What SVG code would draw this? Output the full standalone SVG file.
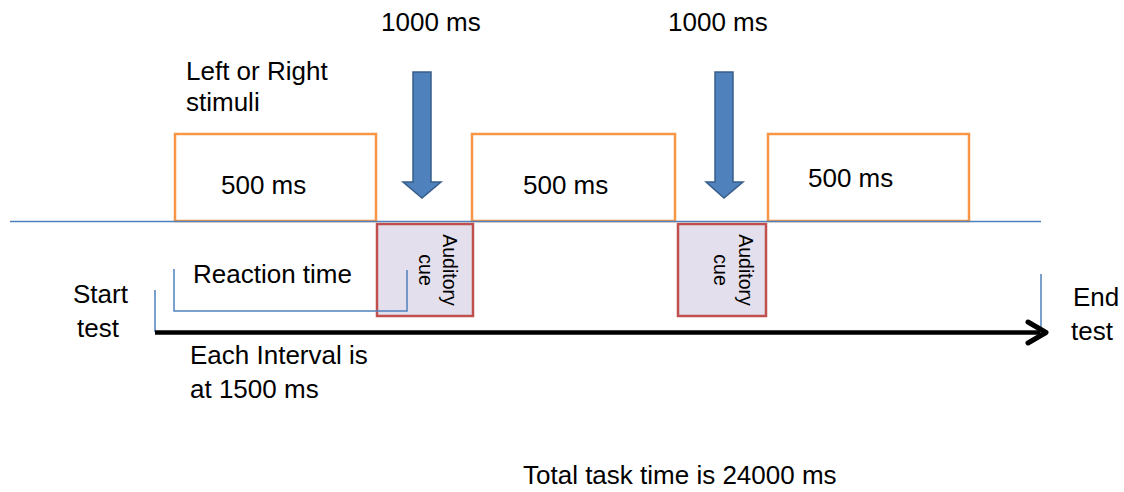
<svg xmlns="http://www.w3.org/2000/svg" width="1124" height="492" viewBox="0 0 1124 492">
<style>
text{font-family:"Liberation Sans",Arial,sans-serif;fill:#000;}
.lbl{font-size:26px;}
.cue{font-size:19.5px;}
.stim{fill:#fff;stroke:#F79646;stroke-width:2.5;}
.aud{fill:#E4DFEC;stroke:#C0504D;stroke-width:2.5;}
.thin{fill:none;stroke:#4F81BD;stroke-width:1.5;}
.barrow{fill:#4F81BD;stroke:#385D8A;stroke-width:1.5;}
</style>
<rect width="1124" height="492" fill="#fff"/>
<g id="stim1"><rect class="stim" x="175" y="134" width="201" height="87"/><text class="lbl" x="221" y="194">500 ms</text></g>
<g id="stim2"><rect class="stim" x="472" y="134" width="203" height="87"/><text class="lbl" x="523" y="194">500 ms</text></g>
<g id="stim3"><rect class="stim" x="768" y="134" width="201" height="87"/><text class="lbl" x="808" y="187">500 ms</text></g>
<g id="cue1"><rect class="aud" x="377" y="224" width="96" height="92"/>
  <text class="cue" text-anchor="middle" transform="translate(443,270) rotate(90)">Auditory</text>
  <text class="cue" text-anchor="middle" transform="translate(419,270) rotate(90)">cue</text></g>
<g id="cue2"><rect class="aud" x="678" y="224" width="88" height="92"/>
  <text class="cue" text-anchor="middle" transform="translate(739,270) rotate(90)">Auditory</text>
  <text class="cue" text-anchor="middle" transform="translate(714,270) rotate(90)">cue</text></g>
<g id="arrow1"><path class="barrow" d="M413,72 H431 V182 H441 L422,198 L403,182 H413 Z"/><text class="lbl" x="381" y="31">1000 ms</text></g>
<g id="arrow2"><path class="barrow" d="M715,72 H733 V182 H743 L724,198 L706,182 H715 Z"/><text class="lbl" x="668" y="31">1000 ms</text></g>
<g id="stimLabel"><text class="lbl" x="186" y="80">Left or Right</text><text class="lbl" x="186" y="111">stimuli</text></g>
<g id="reaction"><text class="lbl" x="193" y="283">Reaction time</text></g>
<g id="start"><text class="lbl" x="73" y="303">Start</text><text class="lbl" x="77" y="337">test</text></g>
<g id="end"><text class="lbl" x="1073" y="306">End</text><text class="lbl" x="1071" y="340">test</text></g>
<g id="interval"><text class="lbl" x="190" y="364">Each Interval is</text><text class="lbl" x="190" y="398">at 1500 ms</text></g>
<g id="total"><text class="lbl" x="523" y="484">Total task time is 24000 ms</text></g>
<g id="connectors">
  <line class="thin" x1="10" y1="221.5" x2="1041" y2="221.5"/>
  <polyline class="thin" points="174,269 174,311 407,311 407,270"/>
  <polyline class="thin" points="155,290 155,332"/>
  <line class="thin" x1="1041" y1="274" x2="1041" y2="333"/>
  <line x1="155" y1="332.5" x2="1040" y2="332.5" stroke="#000" stroke-width="4.5"/>
  <polyline points="1028,322 1046,332.5 1028,343" fill="none" stroke="#000" stroke-width="5" stroke-linecap="round" stroke-linejoin="round"/>
</g>
</svg>
